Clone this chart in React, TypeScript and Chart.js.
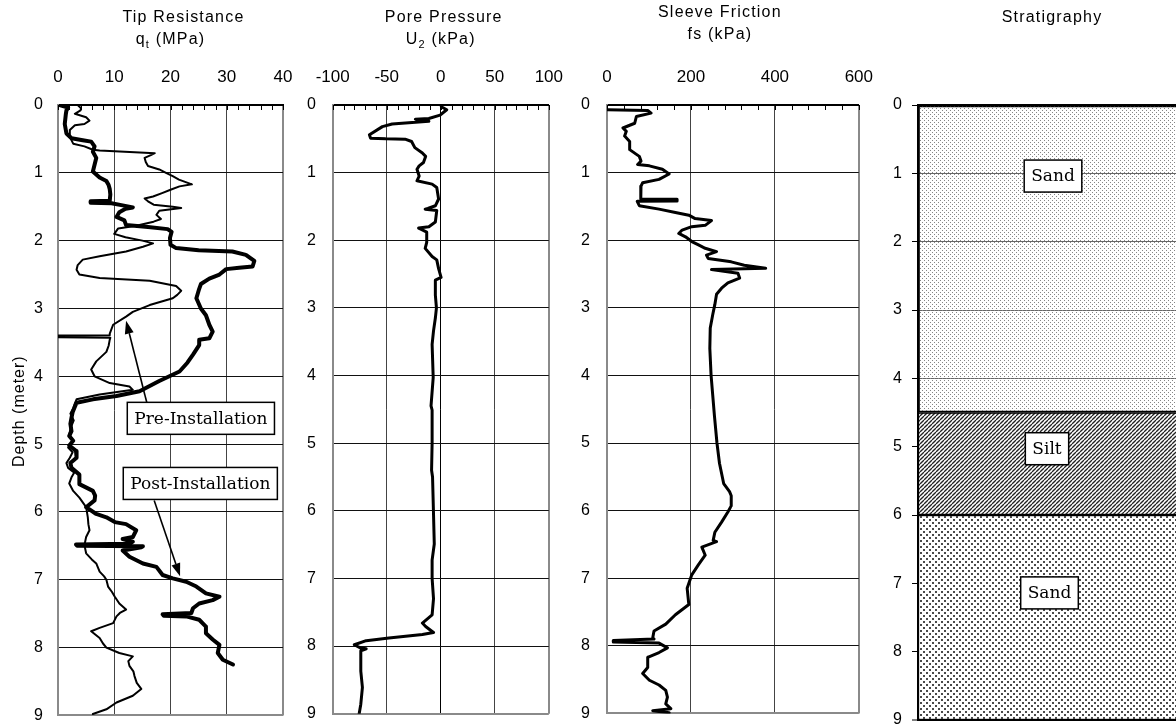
import React, { useEffect, useRef } from 'react';
import { Chart, registerables } from 'chart.js';

Chart.register(...registerables);

const SANS = '"Liberation Sans", Arial, Helvetica, sans-serif';
const SERIF = '"DejaVu Serif", "Liberation Serif", serif';

// ---------------- data ----------------
// [depth (m), qt (MPa)]
const preInstallation: number[][] = [
  [0.0, 3.5], [0.05, 4.1], [0.08, 4.0], [0.13, 3.0], [0.18, 5.0], [0.23, 5.6], [0.28, 4.7], [0.3, 3.0],
  [0.37, 2.1], [0.47, 2.1], [0.57, 2.7], [0.61, 4.7], [0.66, 6.2], [0.67, 7.4], [0.71, 17.2], [0.74, 16.5],
  [0.78, 15.4], [0.84, 15.6], [0.9, 16.0], [0.95, 18.0], [1.0, 19.2], [1.05, 20.4], [1.1, 21.5], [1.17, 23.8],
  [1.2, 21.6], [1.25, 20.0], [1.3, 18.5], [1.35, 16.9], [1.38, 15.4], [1.42, 16.0], [1.47, 17.0], [1.5, 20.4],
  [1.52, 21.9], [1.56, 18.0], [1.62, 17.5], [1.68, 18.3], [1.72, 17.0], [1.78, 13.9], [1.82, 10.7], [1.9, 10.0],
  [1.95, 12.0], [2.0, 15.0], [2.04, 16.9], [2.09, 15.1], [2.16, 12.1], [2.23, 7.4], [2.28, 4.4], [2.36, 3.5],
  [2.43, 3.3], [2.5, 3.8], [2.55, 7.4], [2.59, 16.3], [2.67, 21.0], [2.74, 21.9], [2.8, 21.2], [2.85, 20.4],
  [2.95, 16.3], [3.05, 13.3], [3.12, 12.1], [3.24, 9.8], [3.37, 9.2], [3.395, 9.2], [3.4, 0.0], [3.425, 0.0],
  [3.43, 9.3], [3.46, 9.2], [3.55, 9.0], [3.64, 8.6], [3.78, 6.8], [3.9, 5.9], [4.0, 6.5], [4.1, 9.2],
  [4.15, 12.7], [4.2, 13.3], [4.27, 7.4], [4.34, 3.3], [4.4, 3.0], [4.47, 2.7], [4.55, 2.2], [4.65, 2.8],
  [4.75, 2.3], [4.85, 2.0], [4.95, 2.7], [5.05, 1.8], [5.12, 2.6], [5.2, 2.1], [5.28, 1.5], [5.35, 1.8],
  [5.42, 2.9], [5.49, 2.4], [5.58, 2.0], [5.69, 2.7], [5.79, 3.8], [5.93, 5.0], [6.08, 5.3], [6.18, 5.4],
  [6.27, 5.6], [6.37, 5.0], [6.49, 4.7], [6.61, 5.0], [6.7, 6.0], [6.76, 6.8], [6.88, 7.4], [6.95, 8.2],
  [7.0, 8.6], [7.1, 8.9], [7.18, 9.6], [7.25, 10.1], [7.35, 10.9], [7.44, 12.1], [7.49, 11.0], [7.54, 10.4],
  [7.64, 9.8], [7.71, 7.4], [7.76, 5.9], [7.86, 7.4], [7.94, 8.0], [8.0, 8.6], [8.08, 10.9], [8.13, 13.3],
  [8.2, 12.5], [8.27, 12.7], [8.35, 13.4], [8.42, 13.6], [8.52, 14.0], [8.61, 14.8], [8.71, 13.3], [8.81, 10.4],
  [8.91, 8.6], [8.98, 6.2],
];

// [depth (m), qt (MPa)]
const postInstallation: number[][] = [
  [0.0, 0.3], [0.04, 1.8], [0.08, 1.5], [0.13, 1.4], [0.28, 1.2], [0.42, 1.5], [0.49, 2.4], [0.52, 4.4],
  [0.54, 5.9], [0.61, 6.5], [0.69, 6.2], [0.78, 6.8], [0.88, 6.5], [0.98, 6.2], [1.07, 7.4], [1.12, 8.6],
  [1.18, 9.0], [1.24, 9.2], [1.32, 9.3], [1.41, 9.2], [1.42, 5.8], [1.44, 5.8], [1.45, 9.5], [1.48, 11.5],
  [1.51, 13.3], [1.53, 12.0], [1.58, 10.9], [1.65, 10.4], [1.7, 11.8], [1.77, 12.1], [1.8, 16.0], [1.83, 19.5],
  [1.87, 20.2], [1.96, 19.9], [2.06, 20.0], [2.11, 21.0], [2.14, 25.0], [2.16, 31.0], [2.21, 33.4], [2.3, 34.9],
  [2.38, 34.6], [2.4, 32.2], [2.42, 29.9], [2.5, 28.7], [2.56, 26.9], [2.64, 25.4], [2.71, 25.1], [2.85, 24.6],
  [3.0, 25.4], [3.1, 26.3], [3.24, 26.9], [3.34, 27.5], [3.44, 26.9], [3.46, 25.1], [3.54, 25.1], [3.68, 24.0],
  [3.8, 23.0], [3.93, 21.6], [4.07, 18.0], [4.22, 14.5], [4.29, 10.4], [4.34, 6.2], [4.39, 3.3], [4.45, 3.0],
  [4.53, 2.6], [4.61, 2.4], [4.7, 2.2], [4.81, 2.4], [4.88, 2.0], [4.95, 2.7], [5.02, 2.0], [5.1, 3.2],
  [5.2, 3.3], [5.28, 2.2], [5.35, 2.4], [5.45, 3.8], [5.59, 3.8], [5.69, 6.2], [5.76, 6.6], [5.83, 6.5],
  [5.93, 5.0], [6.03, 6.8], [6.08, 8.6], [6.15, 10.1], [6.18, 12.1], [6.27, 13.9], [6.37, 13.3], [6.4, 11.5],
  [6.44, 13.3], [6.47, 12.5], [6.48, 3.2], [6.5, 3.4], [6.505, 15.1], [6.52, 14.8], [6.57, 11.5], [6.66, 12.7],
  [6.76, 15.1], [6.81, 17.5], [6.93, 18.6], [6.98, 20.4], [7.03, 22.8], [7.1, 24.6], [7.2, 26.3], [7.25, 28.7],
  [7.3, 27.5], [7.35, 25.1], [7.42, 24.0], [7.49, 23.7], [7.51, 18.6], [7.53, 18.8], [7.54, 22.8], [7.59, 25.1],
  [7.69, 26.3], [7.79, 26.3], [7.88, 27.5], [7.96, 28.7], [8.08, 28.4], [8.18, 29.3], [8.25, 31.1],
];

// [depth (m), U2 (kPa)]
const porePressure: number[][] = [
  [0.0, 0], [0.03, 1], [0.07, 5.5], [0.15, -0.6], [0.2, -11], [0.21, -23.5], [0.22, -22], [0.24, -11],
  [0.28, -45], [0.32, -54], [0.44, -66], [0.49, -65], [0.5, -51], [0.505, -33], [0.54, -27], [0.63, -24],
  [0.71, -17], [0.76, -14], [0.85, -16], [0.9, -20], [0.95, -22], [1.05, -20], [1.12, -22], [1.17, -8],
  [1.22, -3.7], [1.39, -2], [1.49, -5], [1.53, -12], [1.54, -14.4], [1.56, -3.7], [1.73, -5], [1.8, -11],
  [1.82, -20.5], [1.84, -18], [1.88, -13], [2.03, -13], [2.12, -14.4], [2.24, -8], [2.29, -3.7], [2.42, -2],
  [2.55, 0.3], [2.59, -5], [2.81, -5], [3.0, -4], [3.15, -5], [3.34, -6.7], [3.54, -8], [4.03, -7],
  [4.45, -9], [4.51, -8], [5.0, -8], [5.4, -8.5], [5.5, -7.6], [6.05, -6.7], [6.49, -6], [6.73, -8],
  [7.0, -8], [7.3, -6.7], [7.54, -8], [7.66, -17], [7.71, -14], [7.8, -6.7], [7.83, -17], [7.88, -48],
  [7.92, -69], [7.98, -80], [8.03, -74], [8.04, -69], [8.07, -74], [8.37, -74], [8.61, -72.5], [8.86, -74],
  [9.0, -75.5],
];

// [depth (m), fs (kPa)]
const sleeveFriction: number[][] = [
  [0.07, 0], [0.08, 97], [0.12, 105], [0.17, 70], [0.27, 66], [0.34, 38], [0.39, 46], [0.46, 42],
  [0.54, 54], [0.66, 54], [0.76, 77], [0.83, 81], [0.88, 73], [0.9, 101], [0.95, 132], [1.02, 148],
  [1.1, 124], [1.15, 85], [1.2, 81], [1.34, 81], [1.39, 80], [1.395, 167], [1.42, 167], [1.425, 72],
  [1.49, 77], [1.54, 124], [1.59, 163], [1.63, 195], [1.68, 210], [1.71, 249], [1.78, 234], [1.8, 202],
  [1.85, 179], [1.9, 171], [1.95, 187], [2.02, 202], [2.07, 218], [2.12, 234], [2.17, 261], [2.22, 237],
  [2.27, 241], [2.32, 296], [2.37, 327], [2.415, 378], [2.435, 249], [2.49, 312], [2.56, 316], [2.63, 288],
  [2.71, 273], [2.8, 261], [2.95, 257], [3.1, 252], [3.3, 246], [3.6, 245], [4.0, 248], [4.3, 252],
  [4.6, 256], [5.0, 262], [5.3, 268], [5.6, 278], [5.72, 292], [5.78, 296], [5.93, 296], [6.02, 288],
  [6.17, 273], [6.32, 257], [6.44, 253], [6.46, 261], [6.54, 226], [6.66, 234], [6.8, 218], [6.95, 202],
  [7.15, 191], [7.39, 195], [7.54, 163], [7.68, 140], [7.78, 112], [7.88, 109], [7.9, 112], [7.92, 15],
  [7.945, 15], [7.96, 124], [8.03, 144], [8.1, 124], [8.17, 97], [8.32, 97], [8.41, 85], [8.51, 101],
  [8.58, 124], [8.66, 140], [8.76, 144], [8.86, 140], [8.93, 152], [8.96, 109], [8.99, 148],
];

// stratigraphy
const layerNames = ['Sand', 'Silt', 'Sand'];
const layerTop = [0, 4.5, 6.0];
const layerBottom = [4.5, 6.0, 9.0];
const layerLabelDepth = [1.04, 5.03, 7.14];

// annotations (qt MPa, depth m)
const preLabel = { text: 'Pre-Installation', qt: 25.4, depth: 4.62 };
const postLabel = { text: 'Post-Installation', qt: 25.3, depth: 5.58 };
const preArrow = { fromQt: 16.4, fromDepth: 4.59, toQt: 12.1, toDepth: 3.18 };
const postArrow = { fromQt: 17.1, fromDepth: 5.83, toQt: 21.7, toDepth: 6.95 };

// ---------------- helpers ----------------
type Part = { text: string; sub?: boolean };
type TitleLine = { parts: Part[]; dx: number; y: number };

const toPoints = (rows: number[][]) => rows.map((r) => ({ x: r[1], y: r[0] }));

function drawTitleLine(ctx: CanvasRenderingContext2D, line: TitleLine, cx: number) {
  const size = 16;
  const subSize = 11;
  ctx.save();
  (ctx as any).letterSpacing = '1.2px';
  ctx.fillStyle = '#000';
  ctx.textBaseline = 'middle';
  ctx.textAlign = 'left';
  let w = 0;
  for (const p of line.parts) {
    ctx.font = `${p.sub ? subSize : size}px ${SANS}`;
    w += ctx.measureText(p.text).width;
  }
  let x = cx + line.dx - w / 2;
  for (const p of line.parts) {
    ctx.font = `${p.sub ? subSize : size}px ${SANS}`;
    ctx.fillText(p.text, x, line.y + (p.sub ? 5 : 0));
    x += ctx.measureText(p.text).width;
  }
  ctx.restore();
}

function drawBox(ctx: CanvasRenderingContext2D, text: string, cx: number, cy: number) {
  ctx.save();
  ctx.font = `17px ${SERIF}`;
  const w = ctx.measureText(text).width + 14;
  const h = 32;
  ctx.fillStyle = '#fff';
  ctx.fillRect(cx - w / 2, cy - h / 2, w, h);
  ctx.strokeStyle = '#000';
  ctx.lineWidth = 1.5;
  ctx.strokeRect(cx - w / 2, cy - h / 2, w, h);
  ctx.fillStyle = '#000';
  ctx.textAlign = 'center';
  ctx.textBaseline = 'middle';
  ctx.fillText(text, cx, cy + 1);
  ctx.restore();
}

function drawArrow(ctx: CanvasRenderingContext2D, x1: number, y1: number, x2: number, y2: number) {
  const ang = Math.atan2(y2 - y1, x2 - x1);
  const len = 13;
  const half = 4.5;
  const bx = x2 - len * Math.cos(ang);
  const by = y2 - len * Math.sin(ang);
  ctx.save();
  ctx.strokeStyle = '#000';
  ctx.fillStyle = '#000';
  ctx.lineWidth = 1.6;
  ctx.beginPath();
  ctx.moveTo(x1, y1);
  ctx.lineTo(bx, by);
  ctx.stroke();
  ctx.beginPath();
  ctx.moveTo(x2, y2);
  ctx.lineTo(bx + half * Math.sin(ang), by - half * Math.cos(ang));
  ctx.lineTo(bx - half * Math.sin(ang), by + half * Math.cos(ang));
  ctx.closePath();
  ctx.fill();
  ctx.restore();
}

function decorPlugin(cfg: {
  titles: TitleLine[];
  minorStep?: number;
  yTitle?: string;
  annotate?: (chart: any, ctx: CanvasRenderingContext2D) => void;
}) {
  return {
    id: 'decor',
    afterDatasetsDraw(chart: any) {
      const ctx: CanvasRenderingContext2D = chart.ctx;
      const a = chart.chartArea;
      if (cfg.minorStep) {
        const xs = chart.scales.x;
        ctx.save();
        ctx.strokeStyle = '#000';
        ctx.lineWidth = 1;
        for (let v = xs.min; v <= xs.max + 1e-9; v += cfg.minorStep) {
          const px = Math.round(xs.getPixelForValue(v)) + 0.5;
          ctx.beginPath();
          ctx.moveTo(px, a.top);
          ctx.lineTo(px, a.top + 5);
          ctx.stroke();
        }
        ctx.restore();
      }
      if (cfg.annotate) cfg.annotate(chart, ctx);
    },
    afterDraw(chart: any) {
      const ctx: CanvasRenderingContext2D = chart.ctx;
      const a = chart.chartArea;
      const cx = (a.left + a.right) / 2;
      for (const t of cfg.titles) drawTitleLine(ctx, t, cx);
      if (cfg.yTitle) {
        ctx.save();
        ctx.translate(20, (a.top + a.bottom) / 2 + 1);
        ctx.rotate(-Math.PI / 2);
        (ctx as any).letterSpacing = '1px';
        ctx.font = `16px ${SANS}`;
        ctx.fillStyle = '#000';
        ctx.textAlign = 'center';
        ctx.textBaseline = 'middle';
        ctx.fillText(cfg.yTitle, 0, 0);
        ctx.restore();
      }
    },
  };
}

function curveConfig(o: {
  datasets: any[];
  xMin: number;
  xMax: number;
  xStep: number;
  yWidth: number;
  yPad: number;
  rightPad: number;
  zeroBlack?: boolean;
  plugin: any;
}) {
  return {
    type: 'line' as const,
    data: { datasets: o.datasets },
    options: {
      animation: false as const,
      responsive: false,
      events: [],
      layout: { padding: { left: 0, top: 0, right: o.rightPad, bottom: 20 } },
      plugins: { legend: { display: false }, tooltip: { enabled: false } },
      scales: {
        x: {
          type: 'linear' as const,
          position: 'top' as const,
          min: o.xMin,
          max: o.xMax,
          afterFit: (s: any) => {
            s.height = 105;
          },
          ticks: {
            stepSize: o.xStep,
            autoSkip: false,
            maxRotation: 0,
            color: '#000',
            padding: 17,
            font: { family: SANS, size: 17 },
          },
          grid: {
            drawTicks: false,
            color: (c: any) => {
              const v = c.tick ? c.tick.value : null;
              if (v === o.xMin) return 'rgba(0,0,0,0)';
              if (v === o.xMax) return '#8a8a8a';
              if (v === 0 && o.zeroBlack) return '#000';
              return '#444';
            },
            lineWidth: (c: any) => (c.tick && c.tick.value === o.xMax ? 2 : 1),
          },
          border: { display: true, color: '#000', width: 2 },
        },
        y: {
          type: 'linear' as const,
          position: 'left' as const,
          min: 0,
          max: 9,
          reverse: true,
          afterFit: (s: any) => {
            s.width = o.yWidth;
          },
          ticks: { stepSize: 1, color: '#000', padding: o.yPad, font: { family: SANS, size: 16 } },
          grid: {
            drawTicks: false,
            color: (c: any) => {
              const v = c.tick ? c.tick.value : null;
              if (v === 0) return 'rgba(0,0,0,0)';
              if (v === 9) return '#8a8a8a';
              return '#111';
            },
            lineWidth: (c: any) => (c.tick && c.tick.value === 9 ? 2 : 1),
          },
          border: { display: true, color: '#8a8a8a', width: 2 },
        },
      },
    },
    plugins: [o.plugin],
  };
}

function lineDs(rows: number[][], width: number) {
  return {
    data: toPoints(rows),
    borderColor: '#000',
    backgroundColor: '#000',
    borderWidth: width,
    pointRadius: 0,
    fill: false,
    tension: 0,
    borderJoinStyle: 'round',
    borderCapStyle: 'round',
  };
}

function makePattern(kind: string): CanvasPattern | string {
  const c = document.createElement('canvas');
  const g = c.getContext('2d');
  if (!g) return '#ddd';
  if (kind === 'sandLight') {
    c.width = 4;
    c.height = 4;
    g.fillStyle = '#858585';
    g.fillRect(0, 0, 1, 1);
    g.fillRect(2, 2, 1, 1);
  } else if (kind === 'sandDense') {
    c.width = 6;
    c.height = 6;
    g.fillStyle = '#fff';
    g.fillRect(0, 0, 6, 6);
    g.fillStyle = '#4a4a4a';
    g.fillRect(0, 0, 2, 2);
    g.fillRect(3, 3, 2, 2);
  } else {
    c.width = 4;
    c.height = 4;
    g.fillStyle = '#fff';
    g.fillRect(0, 0, 4, 4);
    g.strokeStyle = '#222';
    g.lineWidth = 1.3;
    for (const off of [-4, 0, 4]) {
      g.beginPath();
      g.moveTo(off, 4);
      g.lineTo(off + 4, 0);
      g.stroke();
    }
  }
  return g.createPattern(c, 'repeat') || '#ddd';
}

export default function App() {
  const r1 = useRef<HTMLCanvasElement>(null);
  const r2 = useRef<HTMLCanvasElement>(null);
  const r3 = useRef<HTMLCanvasElement>(null);
  const r4 = useRef<HTMLCanvasElement>(null);

  useEffect(() => {
    const charts: Chart[] = [];

    // Panel 1: tip resistance
    const p1 = decorPlugin({
      minorStep: 2,
      yTitle: 'Depth (meter)',
      titles: [
        { parts: [{ text: 'Tip Resistance' }], dx: 13, y: 18 },
        { parts: [{ text: 'q' }, { text: 't', sub: true }, { text: ' (MPa)' }], dx: 0, y: 40 },
      ],
      annotate: (chart, ctx) => {
        const xs = chart.scales.x;
        const ys = chart.scales.y;
        drawArrow(
          ctx,
          xs.getPixelForValue(preArrow.fromQt),
          ys.getPixelForValue(preArrow.fromDepth),
          xs.getPixelForValue(preArrow.toQt),
          ys.getPixelForValue(preArrow.toDepth)
        );
        drawArrow(
          ctx,
          xs.getPixelForValue(postArrow.fromQt),
          ys.getPixelForValue(postArrow.fromDepth),
          xs.getPixelForValue(postArrow.toQt),
          ys.getPixelForValue(postArrow.toDepth)
        );
        drawBox(ctx, preLabel.text, xs.getPixelForValue(preLabel.qt), ys.getPixelForValue(preLabel.depth));
        drawBox(ctx, postLabel.text, xs.getPixelForValue(postLabel.qt), ys.getPixelForValue(postLabel.depth));
      },
    });
    charts.push(
      new Chart(
        r1.current as HTMLCanvasElement,
        curveConfig({
          datasets: [lineDs(preInstallation, 2), lineDs(postInstallation, 4)],
          xMin: 0,
          xMax: 40,
          xStep: 10,
          yWidth: 58,
          yPad: 15,
          rightPad: 27,
          plugin: p1,
        }) as any
      )
    );

    // Panel 2: pore pressure
    const p2 = decorPlugin({
      minorStep: 10,
      titles: [
        { parts: [{ text: 'Pore Pressure' }], dx: 3, y: 18 },
        { parts: [{ text: 'U' }, { text: '2', sub: true }, { text: ' (kPa)' }], dx: 0, y: 40 },
      ],
    });
    charts.push(
      new Chart(
        r2.current as HTMLCanvasElement,
        curveConfig({
          datasets: [lineDs(porePressure, 3)],
          xMin: -100,
          xMax: 100,
          xStep: 50,
          yWidth: 42.7,
          yPad: 16.7,
          rightPad: 29.3,
          zeroBlack: true,
          plugin: p2,
        }) as any
      )
    );

    // Panel 3: sleeve friction
    const p3 = decorPlugin({
      minorStep: 40,
      titles: [
        { parts: [{ text: 'Sleeve Friction' }], dx: -13, y: 13 },
        { parts: [{ text: 'fs (kPa)' }], dx: -13, y: 35 },
      ],
    });
    charts.push(
      new Chart(
        r3.current as HTMLCanvasElement,
        curveConfig({
          datasets: [lineDs(sleeveFriction, 3)],
          xMin: 0,
          xMax: 600,
          xStep: 200,
          yWidth: 42,
          yPad: 17,
          rightPad: 27,
          plugin: p3,
        }) as any
      )
    );

    // Panel 4: stratigraphy
    const patterns = [makePattern('sandLight'), makePattern('silt'), makePattern('sandDense')];
    const labelDx = [-1, -7, -4.5];
    const p4 = decorPlugin({
      titles: [{ parts: [{ text: 'Stratigraphy' }], dx: -2, y: 18 }],
      annotate: (chart, ctx) => {
        const xs = chart.scales.x;
        const ys = chart.scales.y;
        const cx = xs.getPixelForValue(0);
        layerNames.forEach((n, i) => {
          drawBox(ctx, n, cx + labelDx[i], ys.getPixelForValue(layerLabelDepth[i]));
        });
      },
    });
    charts.push(
      new Chart(r4.current as HTMLCanvasElement, {
        type: 'bar',
        data: {
          labels: ['Soil profile'],
          datasets: layerNames.map((n, i) => ({
            label: n,
            data: [[layerTop[i], layerBottom[i]]],
            backgroundColor: patterns[i],
            borderColor: '#000',
            borderWidth: 1.5,
            borderSkipped: false,
            grouped: false,
            barPercentage: 1,
            categoryPercentage: 1,
          })),
        } as any,
        options: {
          animation: false,
          responsive: false,
          events: [],
          layout: { padding: { left: 0, top: 0, right: 10, bottom: 20 } },
          plugins: { legend: { display: false }, tooltip: { enabled: false } },
          scales: {
            x: {
              type: 'category',
              position: 'top',
              afterFit: (s: any) => {
                s.height = 105;
              },
              ticks: { display: false },
              grid: { display: false, drawTicks: false },
              border: { display: true, color: '#000', width: 2 },
            },
            y: {
              type: 'linear',
              position: 'left',
              min: 0,
              max: 9,
              reverse: true,
              afterFit: (s: any) => {
                s.width = 58;
              },
              ticks: { stepSize: 1, color: '#000', padding: 10, font: { family: SANS, size: 16 } },
              grid: {
                drawTicks: true,
                tickLength: 6,
                tickColor: '#000',
                tickWidth: 1,
                color: (c: any) => {
                  const v = c.tick ? c.tick.value : null;
                  if (v === 0) return 'rgba(0,0,0,0)';
                  if (v === 9) return '#000';
                  return '#666';
                },
                lineWidth: (c: any) => (c.tick && c.tick.value === 9 ? 2 : 1),
              },
              border: { display: true, color: '#000', width: 2 },
            },
          },
        } as any,
        plugins: [p4],
      } as any)
    );

    return () => {
      charts.forEach((c) => c.destroy());
    };
  }, []);

  const cs = (left: number): React.CSSProperties => ({ position: 'absolute', left, top: 0 });

  return (
    <div
      style={{
        position: 'absolute',
        left: 0,
        top: 0,
        width: 1176,
        height: 728,
        overflow: 'hidden',
        background: '#fff',
      }}
    >
      <canvas ref={r1} width={310} height={740} style={cs(0)} />
      <canvas ref={r2} width={290} height={740} style={cs(290)} />
      <canvas ref={r3} width={325} height={740} style={cs(565)} />
      <canvas ref={r4} width={340} height={740} style={cs(860)} />
    </div>
  );
}
